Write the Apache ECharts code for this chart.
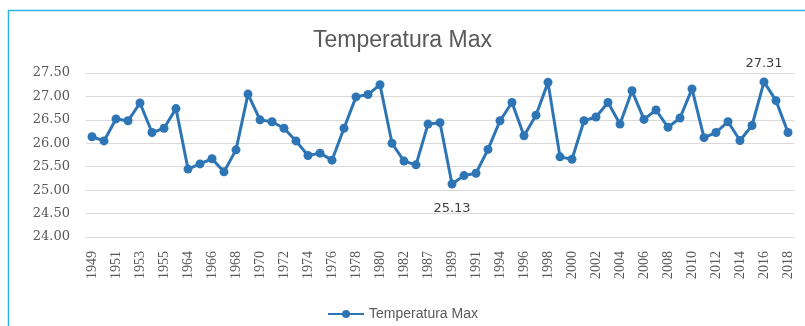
<!DOCTYPE html>
<html>
<head>
<meta charset="utf-8">
<script src="https://cdn.jsdelivr.net/npm/echarts@6/dist/echarts.min.js"></script>
<style>html,body{margin:0;padding:0;background:#fff}#c{width:805px;height:326px}</style>
</head>
<body>
<div id="c"></div>
<script>
const years = ['1949','1950','1951','1952','1953','1954','1955','1956',
  '1964','1965','1966','1967','1968','1969','1970','1971','1972','1973','1974','1975','1976','1977','1978','1979','1980','1981','1982','1983',
  '1987','1988','1989','1990','1991','1992',
  '1994','1995','1996','1997','1998','1999','2000','2001','2002','2003','2004','2005','2006','2007','2008','2009','2010','2011','2012','2013','2014','2015','2016','2017','2018'];
const tempMax = [26.14,26.05,26.52,26.48,26.86,26.23,26.32,26.74,
  25.45,25.56,25.67,25.39,25.86,27.05,26.50,26.46,26.32,26.05,25.74,25.79,25.64,26.32,26.99,27.04,27.25,26.00,25.62,25.54,
  26.41,26.44,25.13,25.31,25.36,25.87,
  26.48,26.87,26.16,26.60,27.30,25.71,25.66,26.48,26.56,26.87,26.41,27.12,26.51,26.71,26.34,26.54,27.16,26.12,26.23,26.46,26.06,26.38,27.31,26.91,26.23];
const labelledYears = {'1989':'bottom','2016':'top'};
const yTicks = {min:24, max:27.5, step:0.5};
const seriesName = 'Temperatura Max';
const titleText = 'Temperatura Max';

const chart = echarts.init(document.getElementById('c'), null, {renderer:'canvas'});
const dataItems = tempMax.map((v,i)=>{
  const pos = labelledYears[years[i]];
  if (!pos) return v;
  return {value:v, label:{show:true, position:pos, distance:pos==='bottom'?14:7,
    formatter:p=>p.value.toFixed(2), fontFamily:'DejaVu Sans', fontSize:13, color:'#404040'}};
});
chart.setOption({
  animation:false,
  graphic:[{type:'rect', shape:{x:8.5,y:10.5,width:810,height:330},
    style:{fill:'none', stroke:'#2DB4EE', lineWidth:1.5}, silent:true}],
  title:{text:titleText, left:'center', top:24,
    textStyle:{fontFamily:'Liberation Sans', fontWeight:'normal', fontSize:23, color:'#595959'}},
  legend:{bottom:0, left:'center', itemWidth:36, itemHeight:10,
    textStyle:{fontFamily:'Liberation Sans', fontSize:14, color:'#595959'}, data:[seriesName]},
  grid:{left:86, right:11, top:73, bottom:89},
  xAxis:{type:'category', data:years, boundaryGap:true,
    axisLine:{lineStyle:{color:'#D9D9D9'}}, axisTick:{show:false},
    axisLabel:{interval:1, rotate:90, margin:14, fontFamily:'Liberation Serif', fontSize:14, color:'#595959'}},
  yAxis:{type:'value', min:yTicks.min, max:yTicks.max, interval:yTicks.step,
    axisLine:{show:false}, axisTick:{show:false},
    splitLine:{lineStyle:{color:'#D9D9D9', width:1}},
    axisLabel:{margin:16, formatter:v=>v.toFixed(2), fontFamily:'DejaVu Serif', fontSize:13, color:'#595959'}},
  series:[{name:seriesName, type:'line', data:dataItems, symbol:'circle', symbolSize:9, showAllSymbol:true,
    lineStyle:{color:'#2E75B6', width:3}, itemStyle:{color:'#2E75B6'}}]
});
</script>
</body>
</html>
